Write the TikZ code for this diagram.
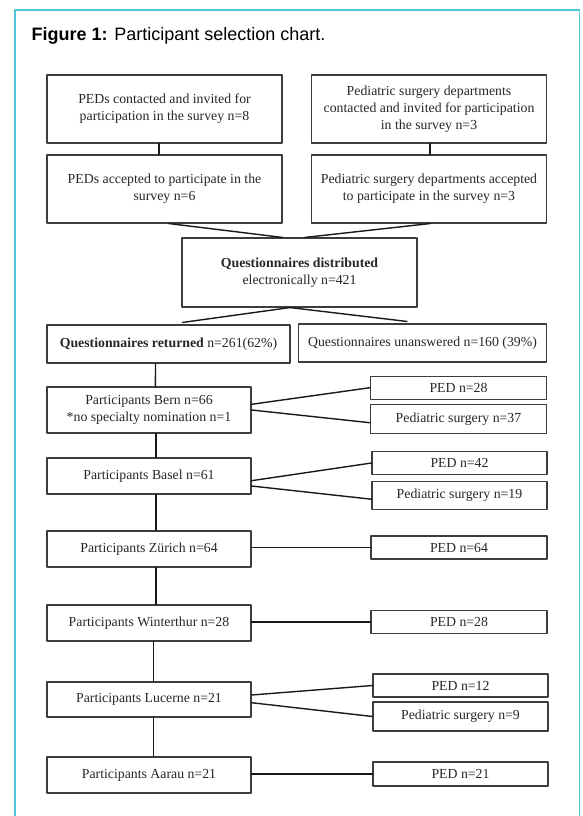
\documentclass[tikz,border=0pt]{standalone}
\usepackage{fontspec}
\setmainfont{Liberation Serif}
\newfontfamily\headfont{Liberation Sans}
\definecolor{framecyan}{RGB}{78,198,218}
\definecolor{boxgray}{RGB}{60,60,60}
\begin{document}
\begin{tikzpicture}[x=1pt,y=-1pt,line join=round,line cap=round]
\tikzset{fbox/.style={draw=boxgray,line width=1.1pt,inner sep=0pt,align=center,text=black!85,font=\fontsize{13.8}{17}\selectfont},
	link/.style={line width=1.4pt,black!90}}
\useasboundingbox (0,0) rectangle (582,816);
\draw[framecyan,line width=1.5pt] (15,816)--(15,10)--(579.5,10)--(579.5,816);
\node[anchor=base west,inner sep=0pt,font=\headfont\fontsize{18}{20}\selectfont] (title) at (31.5,41) {\textbf{Figure 1:} Participant selection chart.};
% invitation and acceptance
\node[fbox,minimum width=235pt,minimum height=68pt] (invped) at (164.5,109) {PEDs contacted and invited for\\participation in the survey n=8};
\node[fbox,minimum width=235pt,minimum height=68pt] (invps) at (429,109) {Pediatric surgery departments\\contacted and invited for participation\\in the survey n=3};
\node[fbox,minimum width=235pt,minimum height=68pt] (accped) at (164.5,189) {PEDs accepted to participate in the\\survey n=6};
\node[fbox,minimum width=235pt,minimum height=68pt] (accps) at (429,189) {Pediatric surgery departments accepted\\to participate in the survey n=3};
\node[fbox,minimum width=235pt,minimum height=69pt] (dist) at (299.5,272.5) {\textbf{Questionnaires distributed}\\electronically n=421};
\node[fbox,minimum width=243pt,minimum height=38pt] (ret) at (168.5,344) {\textbf{Questionnaires returned} n=261(62\%)};
\node[fbox,minimum width=248pt,minimum height=38pt] (unans) at (422.5,343) {Questionnaires unanswered n=160 (39\%)};
% sites
\node[fbox,minimum width=204pt,minimum height=46pt] (bern) at (149,410) {Participants Bern n=66\\*no specialty nomination n=1};
\node[fbox,minimum width=204pt,minimum height=36pt] (basel) at (149,476) {Participants Basel n=61};
\node[fbox,minimum width=204pt,minimum height=36pt] (zur) at (149,549) {Participants Zürich n=64};
\node[fbox,minimum width=204pt,minimum height=36pt] (win) at (149,623) {Participants Winterthur n=28};
\node[fbox,minimum width=204pt,minimum height=35pt] (luc) at (149,699.5) {Participants Lucerne n=21};
\node[fbox,minimum width=204pt,minimum height=36pt] (aar) at (149,775) {Participants Aarau n=21};
% specialties
\node[fbox,minimum width=176pt,minimum height=23pt] (bped) at (458.5,387.7) {PED n=28};
\node[fbox,minimum width=176pt,minimum height=28.5pt] (bps) at (458.5,419) {Pediatric surgery n=37};
\node[fbox,minimum width=175pt,minimum height=23pt] (baped) at (459.5,463) {PED n=42};
\node[fbox,minimum width=175pt,minimum height=28pt] (baps) at (459.5,495.2) {Pediatric surgery n=19};
\node[fbox,minimum width=176pt,minimum height=23pt] (zped) at (459,547.5) {PED n=64};
\node[fbox,minimum width=176pt,minimum height=22.5pt] (wped) at (459,622) {PED n=28};
\node[fbox,minimum width=175pt,minimum height=23pt] (lped) at (460.5,685.5) {PED n=12};
\node[fbox,minimum width=175pt,minimum height=29pt] (lps) at (460.5,716.5) {Pediatric surgery n=9};
\node[fbox,minimum width=175pt,minimum height=24pt] (aped) at (460.5,774) {PED n=21};
% connectors
\draw[link] ([xshift=-5.5pt]invped.south) -- ([xshift=-5.5pt]accped.north);
\draw[link] ([xshift=1pt]invps.south) -- ([xshift=1pt]accps.north);
\draw[link] ([xshift=4.5pt]accped.south) -- ([xshift=-17pt]dist.north);
\draw[link] ([xshift=1pt]accps.south) -- ([xshift=5.5pt]dist.north);
\draw[link] ([xshift=-9.5pt]dist.south) -- ([xshift=14pt,yshift=2pt]ret.north);
\draw[link] ([xshift=-9.5pt]dist.south) -- ([xshift=-15.5pt,yshift=2pt]unans.north);
\draw[link] ([xshift=-13pt]ret.south) -- ([xshift=6.4pt]bern.north);
\foreach \a/\b/\dx in {bern/basel/7,basel/zur/7,zur/win/7,win/luc/4.5,luc/aar/4.5}
{
	\draw[link] ([xshift=\dx pt]\a.south) -- ([xshift=\dx pt]\b.north);
}
\draw[link] ([yshift=5.7pt]bern.east) -- (bped.west);
\draw[link] (bern.east) -- ([yshift=-3.7pt]bps.west);
\draw[link] ([yshift=-4.7pt]basel.east) -- (baped.west);
\draw[link] ([yshift=-10pt]basel.east) -- ([yshift=-4pt]baps.west);
\draw[link] ([yshift=4.5pt]luc.east) -- (lped.west);
\draw[link] ([yshift=-3.2pt]luc.east) -- (lps.west);
\foreach \a/\b in {zur/zped,win/wped,aar/aped}
{
	\draw[link] (\b.west -| \a.east) -- (\b.west);
}
\end{tikzpicture}
\end{document}
